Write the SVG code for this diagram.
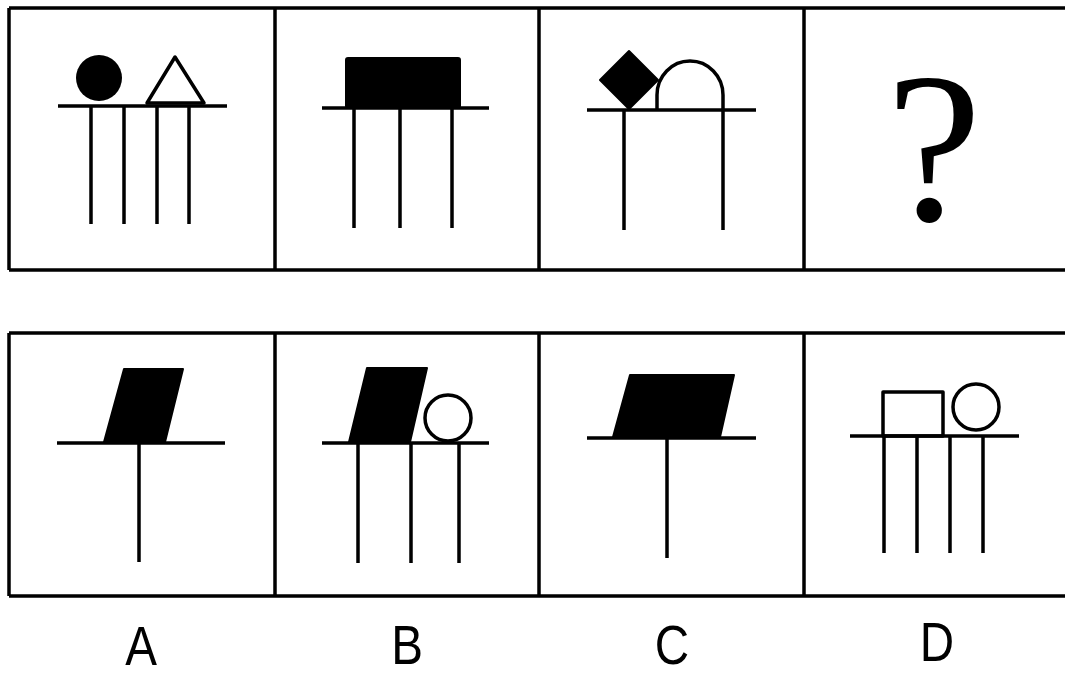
<svg xmlns="http://www.w3.org/2000/svg" width="1065" height="677" viewBox="0 0 1065 677">
<style>
.frame{fill:none;stroke:#000;stroke-width:3.5}
.ln{fill:none;stroke:#000;stroke-width:3.5;stroke-linecap:butt}
.ol{fill:none;stroke:#000;stroke-width:3.5;stroke-linejoin:round}
.fill{fill:#000;stroke:#000;stroke-width:2;stroke-linejoin:round}
.lbl{font-family:"Liberation Sans",Arial,sans-serif;font-size:56px;fill:#000;text-anchor:middle}
.q{font-family:"Liberation Serif","Times New Roman",serif;font-size:215px;fill:#000;text-anchor:middle}
</style>
<rect width="1065" height="677" fill="#fff"/>
<g id="frames">
<path class="frame" d="M9,8 H1068 M9,270 H1068 M9,8 V270 M275,8 V270 M539,8 V270 M804,8 V270"/>
<path class="frame" d="M9,333 H1068 M9,596 H1068 M9,333 V596 M275,333 V596 M539,333 V596 M804,333 V596"/>
</g>
<g id="q1">
<circle cx="99" cy="78" r="23" fill="#000"/>
<polygon class="ol" points="175,57 147,103 204,103"/>
<path class="ln" d="M58,106 H227 M91,106 V224 M124,106 V224 M157,106 V224 M189,106 V224"/>
</g>
<g id="q2">
<rect class="fill" x="346" y="58" width="114" height="50" rx="2"/>
<path class="ln" d="M322,108 H489 M354,108 V228 M400,108 V228 M452,108 V228"/>
</g>
<g id="q3">
<polygon class="fill" points="629,51 658,80 629,109 600,80"/>
<path class="ol" d="M657,110 V95 A33,34 0 0 1 723,95 V110"/>
<path class="ln" d="M587,110 H756 M624,110 V230 M723,110 V230"/>
</g>
<g id="q4">
<text class="q" x="934" y="220">?</text>
</g>
<g id="optA">
<polygon class="fill" points="124,369 183,369 165,442 104,442"/>
<path class="ln" d="M57,443 H225 M139,443 V562"/>
</g>
<g id="optB">
<polygon class="fill" points="367,368 427,368 410,442 349,442"/>
<circle class="ol" cx="448" cy="418" r="23"/>
<path class="ln" d="M322,443 H489 M358,443 V563 M411,443 V563 M459,443 V563"/>
</g>
<g id="optC">
<polygon class="fill" points="630,375 734,375 720,437 613,437"/>
<path class="ln" d="M587,438 H756 M667,438 V558"/>
</g>
<g id="optD">
<rect class="ol" x="883" y="392" width="60" height="44"/>
<circle class="ol" cx="976" cy="407" r="23"/>
<path class="ln" d="M850,436 H1019 M884,436 V553 M917,436 V553 M950,436 V553 M983,436 V553"/>
</g>
<g id="labels">
<text class="lbl" transform="translate(141,665) scale(0.85,1)">A</text>
<text class="lbl" transform="translate(407,664) scale(0.85,1)">B</text>
<text class="lbl" transform="translate(672,664) scale(0.85,1)">C</text>
<text class="lbl" transform="translate(937,661) scale(0.85,1)">D</text>
</g>
</svg>
